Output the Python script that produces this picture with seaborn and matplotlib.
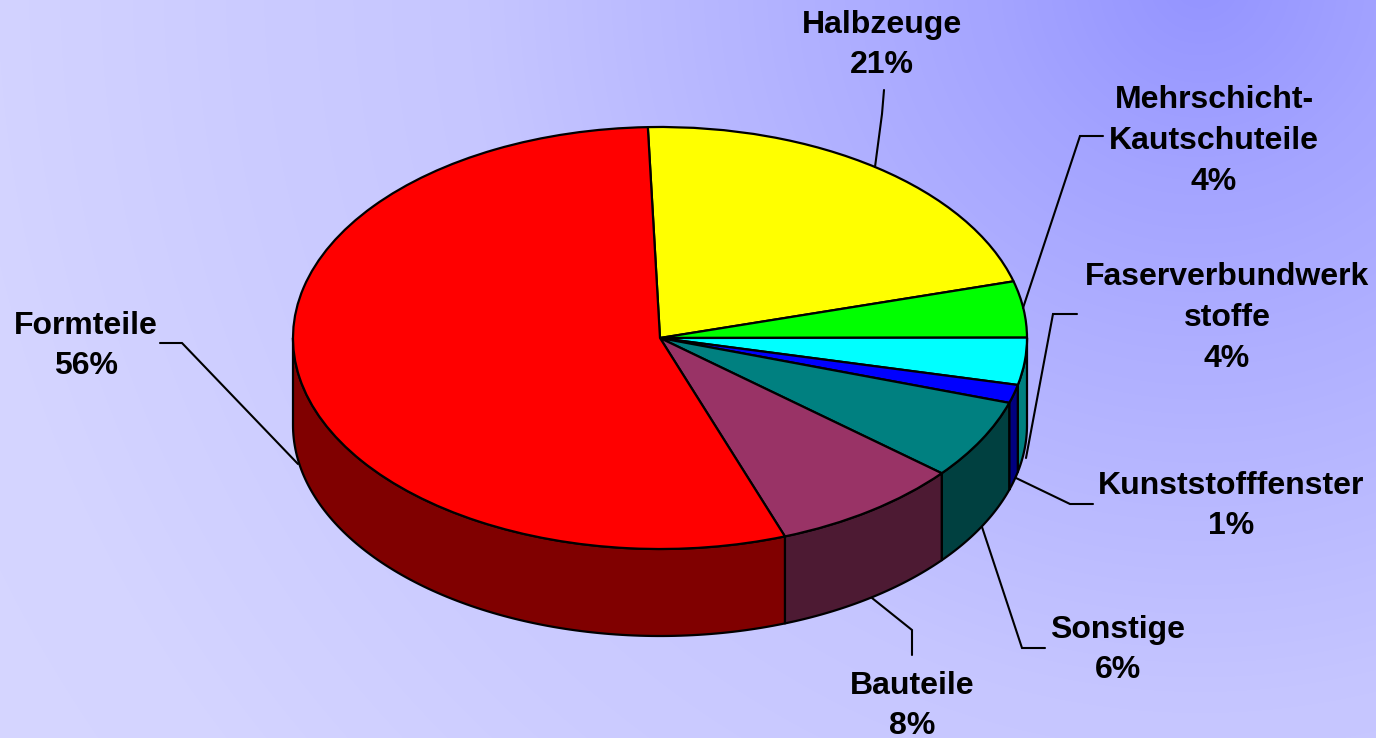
import numpy as np
import matplotlib
matplotlib.use("Agg")
import matplotlib.pyplot as plt
from matplotlib.colors import LinearSegmentedColormap
from matplotlib.patches import Polygon
import seaborn as sns

# ---- data ----
categories = ["Halbzeuge", "Mehrschicht-\nKautschuteile", "Faserverbundwerk\nstoffe",
              "Kunststofffenster", "Sonstige", "Bauteile", "Formteile"]
shares = [21.2, 4.3, 3.6, 1.4, 6.1, 8.4, 55.0]
percent_labels = ["21%", "4%", "4%", "1%", "6%", "8%", "56%"]

top_colors = ["#FFFF00", "#00FF00", "#00FFFF", "#0000FF", "#008080", "#993366", "#FF0000"]
side_colors = ["#808000", "#008000", "#008080", "#000080", "#004040", "#4D1A33", "#800000"]

# ---- layout (pixels of the 1376x738 canvas) ----
W, H = 1376, 738
CX, CY, RX, RY, DEPTH = 660, 338, 367, 211, 87
START_CLOCK = -1.9  # degrees clockwise from north


def dx(px):
    return (np.asarray(px, float) - CX) / RX


def dy(py):
    return (CY - np.asarray(py, float)) / RY


label_pos = [(882, 45), (1214, 141), (1227, 318), (1231, 506), (1118, 650), (912, 706), (86, 346)]
leaders = [
    [(884, 90), (882, 114), (875, 167)],
    [(1103, 136), (1080, 136), (1023, 308)],
    [(1077, 314), (1053, 314), (1026, 458)],
    [(1093, 504), (1070, 504), (1016, 478)],
    [(1045, 648), (1022, 648), (982, 527)],
    [(912, 655), (912, 630), (872, 598)],
    [(160, 343), (182, 343), (298, 464)],
]

sns.set_theme(style="white")
plt.rcParams["font.family"] = ["Liberation Sans", "DejaVu Sans"]

fig = plt.figure(figsize=(W / 100, H / 100), dpi=100)
ax = fig.add_axes([0, 0, 1, 1])

palette_top = sns.color_palette(top_colors)
palette_side = sns.color_palette(side_colors)

# ---- pie top ----
ax.pie(shares, colors=palette_top, startangle=90 - START_CLOCK, counterclock=False,
       radius=1.0, wedgeprops=dict(edgecolor="black", linewidth=1.6, joinstyle="round", zorder=3))

ax.set_aspect("auto")
ax.axis("off")

# ---- background gradient ----
yy, xx = np.mgrid[0:H, 0:W]
dist = np.hypot(xx - 1200, yy + 20)
level = np.interp(dist, [0, 200, 730, 975, 1240, 1500], [0x94, 0xA4, 0xC6, 0xCC, 0xD4, 0xD6])
cmap = LinearSegmentedColormap.from_list("bg", [(0x90 / 255, 0x90 / 255, 1), (0xE0 / 255, 0xE0 / 255, 1)])
ax.imshow(level, cmap=cmap, vmin=0x90, vmax=0xE0, aspect="auto", zorder=0,
          extent=(dx(0), dx(W), dy(H), dy(0)), interpolation="bilinear")
ax.set_xlim(dx(0), dx(W))
ax.set_ylim(dy(H), dy(0))

# ---- side walls, derived from the shares ----
fractions = np.asarray(shares) / np.sum(shares)
edges = START_CLOCK + 360 * np.concatenate([[0], np.cumsum(fractions)])
depth = DEPTH / RY
for a, b, col in zip(edges[:-1], edges[1:], palette_side):
    lo, hi = max(a, 90), min(b, 270)
    if hi <= lo:
        continue
    t = np.radians(np.linspace(lo, hi, 120))
    xs, ys = np.sin(t), np.cos(t)
    pts = np.r_[np.c_[xs, ys], np.c_[xs[::-1], ys[::-1] - depth]]
    ax.add_patch(Polygon(pts, closed=True, facecolor=col, edgecolor="black",
                         linewidth=1.6, joinstyle="round", zorder=2))

# ---- leader lines and labels ----
for line in leaders:
    p = np.array(line, float)
    ax.plot(dx(p[:, 0]), dy(p[:, 1]), color="black", lw=1.5, zorder=4, solid_joinstyle="miter")

for cat, pct, (px, py) in zip(categories, percent_labels, label_pos):
    ax.text(dx(px), dy(py), f"{cat}\n{pct}", ha="center", va="center", ma="center",
            fontsize=23.0, fontweight="bold", color="black", linespacing=1.47, zorder=5)

fig.savefig("out.png", dpi=100)
